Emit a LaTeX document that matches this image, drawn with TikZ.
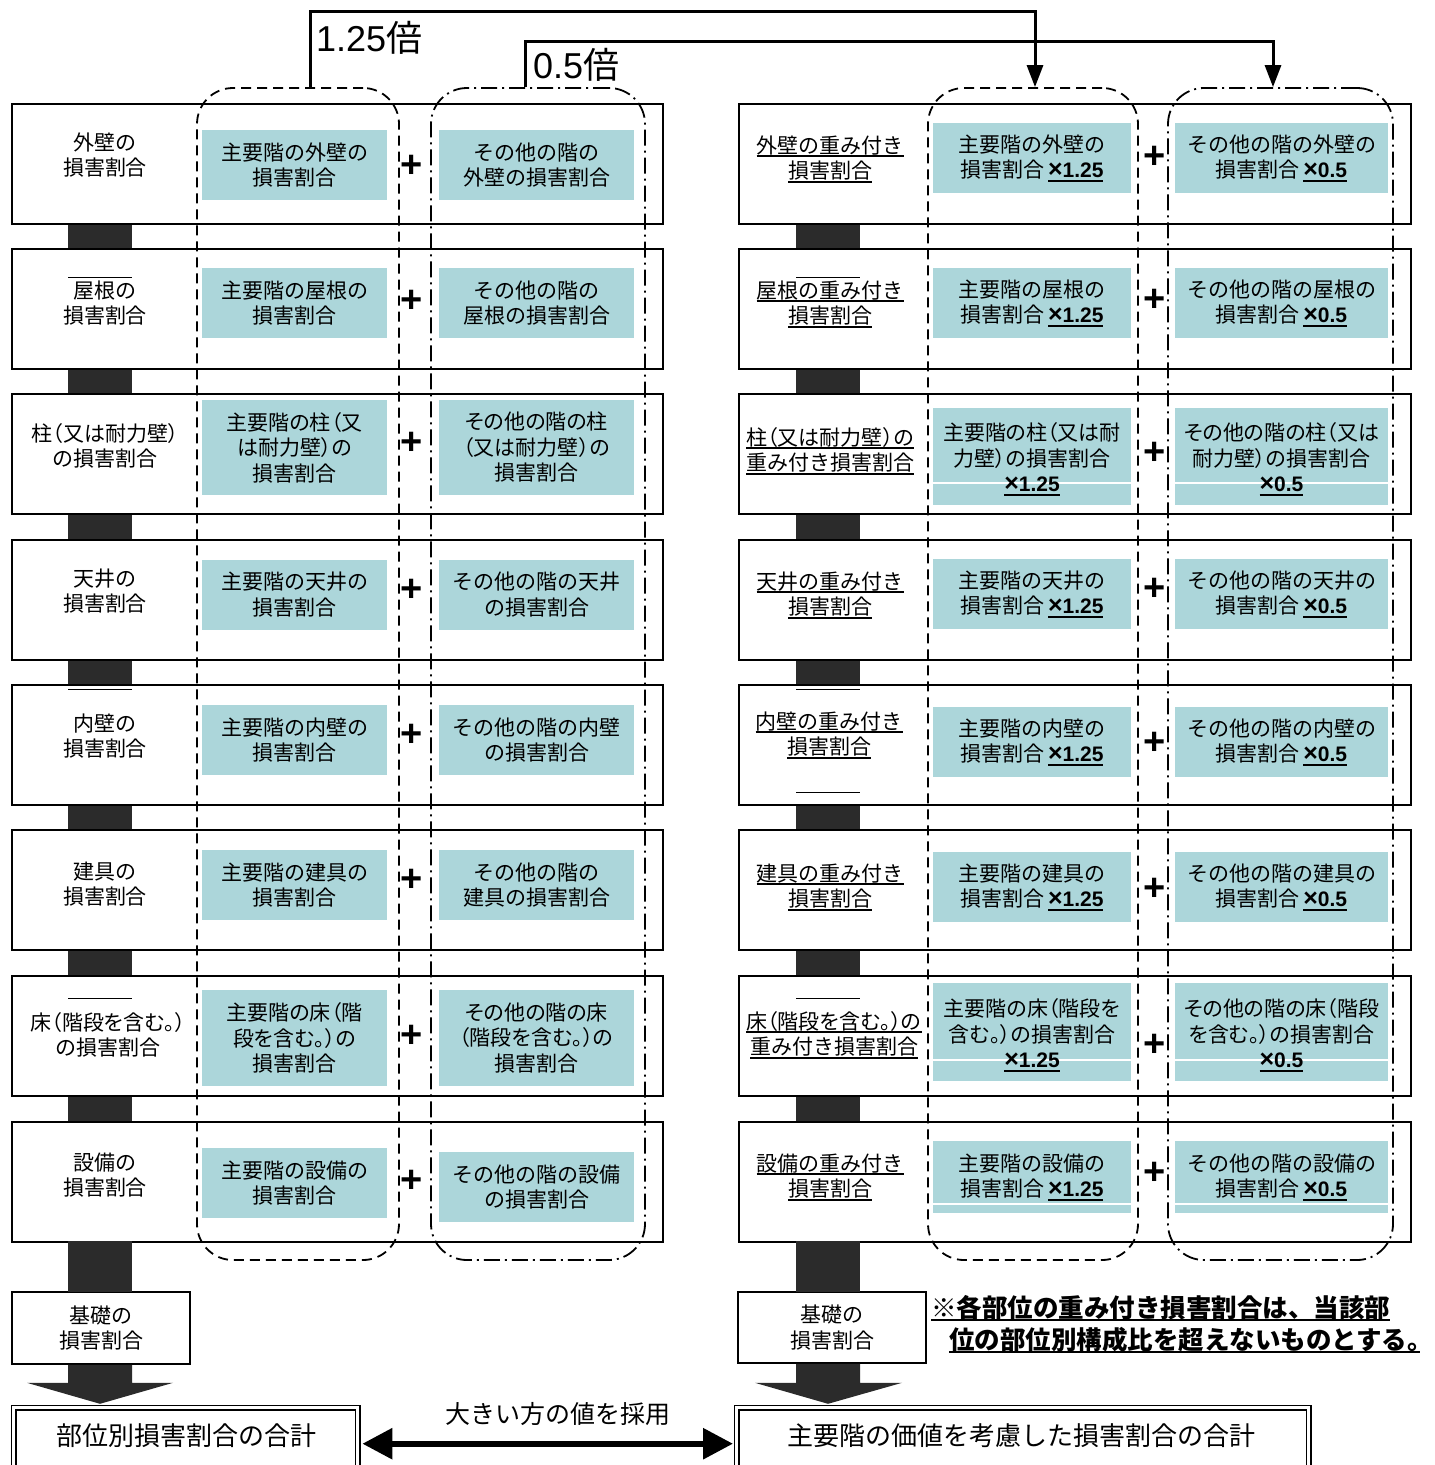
\documentclass[tikz,border=0pt]{standalone}
\usepackage{fontspec}
\setmainfont{Noto Sans CJK JP}
\newfontfamily\pj{Noto Sans CJK JP}[RawFeature=+palt]
\newfontfamily\ar{Liberation Sans}
\usetikzlibrary{arrows.meta,calc}
\definecolor{teal1}{RGB}{172,214,218}
\definecolor{barc}{RGB}{43,43,43}
\newcommand\ulx[1]{\setbox0\hbox{#1}\rlap{\rule[-4pt]{\wd0}{1.8pt}}\box0}
\newcommand\tms{{\fontsize{25}{25}\selectfont ×}}
\newcommand\mul[1]{\,\ulx{\ar\bfseries\tms#1}}
\tikzset{
 rowL/.style={draw, line width=1.6pt, fill=white, anchor=north west, minimum width=651pt, minimum height=120pt, inner sep=0pt},
 rowR/.style={rowL, minimum width=672pt},
 tealbox/.style={fill=teal1, inner sep=0pt, align=center, font=\fontsize{21}{25.5}\selectfont},
 tLm/.style={tealbox, minimum width=185pt},
 tLo/.style={tealbox, minimum width=195pt},
 tRm/.style={tealbox, minimum width=198pt},
 tRo/.style={tealbox, minimum width=213pt},
 lbl/.style={align=center, inner sep=0pt, font=\fontsize{21}{25.5}\selectfont},
 plus/.style={inner sep=0pt, font=\ar\bfseries\fontsize{38}{38}\selectfont},
 grpdash/.style={draw, line width=1.8pt, rounded corners=36pt, dash pattern=on 10pt off 6pt, inner sep=0pt},
 grpdot/.style={draw, line width=1.8pt, rounded corners=36pt, dash pattern=on 16pt off 5pt on 2pt off 5pt, inner sep=0pt},
 conn/.style={line width=3pt},
 whiteln/.style={draw=white, line width=1.5pt},
 stray/.style={line width=1pt},
 basebox/.style={draw, line width=1.6pt, fill=white, align=center, inner sep=0pt, font=\fontsize{21}{25.5}\selectfont},
 total/.style={draw, double, double distance=3pt, line width=1.4pt, anchor=north west, minimum height=64pt, inner sep=0pt},
 bigtxt/.style={inner sep=0pt, font=\fontsize{26}{30}\selectfont},
 note/.style={inner sep=0pt, anchor=west, font=\bfseries\fontsize{25.5}{30}\selectfont},
}
\begin{document}
\begin{tikzpicture}[x=1pt,y=-1pt]
\useasboundingbox (0,0) rectangle (1435,1465);
\clip (0,0) rectangle (1435,1465);
% ---------- row frames
\foreach \i/\t in {1/103,2/248,3/393,4/539,5/684,6/829,7/975,8/1121}{
  \node[rowL] (Lr\i) at (11,\t) {};
  \node[rowR] (Rr\i) at (738,\t) {};
}
% ---------- dark bars between rows
\foreach \i/\j in {1/2,2/3,3/4,4/5,5/6,6/7,7/8}{
  \fill[barc] ([xshift=57pt]Lr\i.south west) rectangle ([xshift=121pt]Lr\j.north west);
  \fill[barc] ([xshift=58pt]Rr\i.south west) rectangle ([xshift=122pt]Rr\j.north west);
}
% stray short rules
\draw[stray] (68,277) -- (132,277) (68,689) -- (132,689) (68,998) -- (132,998);
\draw[stray] (796,277) -- (860,277) (796,689) -- (860,689) (796,792) -- (860,792) (796,998) -- (860,998);
% ---------- left panel
\node[lbl] (Ll1) at (105,155) {外壁の\\損害割合};
\node[lbl] (Ll2) at (105,303) {屋根の\\損害割合};
\node[lbl] (Ll3) at (105,446) {\pj 柱（又は耐力壁）\\\pj の損害割合};
\node[lbl] (Ll4) at (105,591) {天井の\\損害割合};
\node[lbl] (Ll5) at (105,736) {内壁の\\損害割合};
\node[lbl] (Ll6) at (105,884) {建具の\\損害割合};
\node[lbl] (Ll7) at (108,1035) {\pj 床（階段を含む。）\\\pj の損害割合};
\node[lbl] (Ll8) at (105,1175) {設備の\\損害割合};

\node[tLm, minimum height=70pt] (Lm1) at (294.5,165) {主要階の外壁の\\損害割合};
\node[tLm, minimum height=70pt] (Lm2) at (294.5,303) {主要階の屋根の\\損害割合};
\node[tLm, minimum height=95pt] (Lm3) at (294.5,447.5) {\pj 主要階の柱（又\\\pj は耐力壁）の\\損害割合};
\node[tLm, minimum height=70pt] (Lm4) at (294.5,594.5) {主要階の天井の\\損害割合};
\node[tLm, minimum height=70pt] (Lm5) at (294.5,740) {主要階の内壁の\\損害割合};
\node[tLm, minimum height=70pt] (Lm6) at (294.5,885) {主要階の建具の\\損害割合};
\node[tLm, minimum height=96pt] (Lm7) at (294.5,1038) {\pj 主要階の床（階\\\pj 段を含む。）の\\損害割合};
\node[tLm, minimum height=70pt] (Lm8) at (294.5,1183) {主要階の設備の\\損害割合};

\node[tLo, minimum height=70pt] (Lo1) at (536.5,165) {その他の階の\\外壁の損害割合};
\node[tLo, minimum height=70pt] (Lo2) at (536.5,303) {その他の階の\\屋根の損害割合};
\node[tLo, minimum height=95pt] (Lo3) at (536.5,447.5) {\pj その他の階の柱\\\pj （又は耐力壁）の\\損害割合};
\node[tLo, minimum height=70pt] (Lo4) at (536.5,594.5) {その他の階の天井\\の損害割合};
\node[tLo, minimum height=70pt] (Lo5) at (536.5,740) {その他の階の内壁\\の損害割合};
\node[tLo, minimum height=70pt] (Lo6) at (536.5,885) {その他の階の\\建具の損害割合};
\node[tLo, minimum height=96pt] (Lo7) at (536.5,1038) {\pj その他の階の床\\\pj （階段を含む。）の\\損害割合};
\node[tLo, minimum height=70pt] (Lo8) at (536.5,1187) {その他の階の設備\\の損害割合};

\foreach \i/\y in {1/166,2/301,3/443,4/590,5/735,6/880,7/1036,8/1181}{
  \node[plus] (Lp\i) at (412,\y) {+};
}
% ---------- right panel
\node[lbl] (Rl1) at (830,159) {\ulx{外壁の重み付き}\\\ulx{損害割合}};
\node[lbl] (Rl2) at (830,304) {\ulx{屋根の重み付き}\\\ulx{損害割合}};
\node[lbl] (Rl3) at (830,451) {\ulx{\pj 柱（又は耐力壁）の}\\\ulx{重み付き損害割合}};
\node[lbl] (Rl4) at (830,595) {\ulx{天井の重み付き}\\\ulx{損害割合}};
\node[lbl] (Rl5) at (829,735) {\ulx{内壁の重み付き}\\\ulx{損害割合}};
\node[lbl] (Rl6) at (830,887) {\ulx{建具の重み付き}\\\ulx{損害割合}};
\node[lbl] (Rl7) at (834,1035) {\ulx{\pj 床（階段を含む。）の}\\\ulx{重み付き損害割合}};
\node[lbl] (Rl8) at (830,1177) {\ulx{設備の重み付き}\\\ulx{損害割合}};

\node[tRm, minimum height=70pt] (Rm1) at (1032,158) {主要階の外壁の\\損害割合\mul{1.25}};
\node[tRm, minimum height=70pt] (Rm2) at (1032,303) {主要階の屋根の\\損害割合\mul{1.25}};
\node[tRm, minimum height=97pt] (Rm3) at (1032,456.5) {};
\node[tRm, minimum height=70pt] (Rm4) at (1032,594) {主要階の天井の\\損害割合\mul{1.25}};
\node[tRm, minimum height=70pt] (Rm5) at (1032,742) {主要階の内壁の\\損害割合\mul{1.25}};
\node[tRm, minimum height=70pt] (Rm6) at (1032,887) {主要階の建具の\\損害割合\mul{1.25}};
\node[tRm, minimum height=98pt] (Rm7) at (1032,1032) {};
\node[tRm, minimum height=72pt] (Rm8) at (1032,1177) {主要階の設備の\\損害割合\mul{1.25}};

\node[tRo, minimum height=70pt] (Ro1) at (1281.5,158) {その他の階の外壁の\\損害割合\mul{0.5}};
\node[tRo, minimum height=70pt] (Ro2) at (1281.5,303) {その他の階の屋根の\\損害割合\mul{0.5}};
\node[tRo, minimum height=97pt] (Ro3) at (1281.5,456.5) {};
\node[tRo, minimum height=70pt] (Ro4) at (1281.5,594) {その他の階の天井の\\損害割合\mul{0.5}};
\node[tRo, minimum height=70pt] (Ro5) at (1281.5,742) {その他の階の内壁の\\損害割合\mul{0.5}};
\node[tRo, minimum height=70pt] (Ro6) at (1281.5,887) {その他の階の建具の\\損害割合\mul{0.5}};
\node[tRo, minimum height=98pt] (Ro7) at (1281.5,1032) {};
\node[tRo, minimum height=72pt] (Ro8) at (1281.5,1177) {その他の階の設備の\\損害割合\mul{0.5}};

\draw[whiteln] (Rm3.west |- 0,483) -- (Rm3.east |- 0,483) (Ro3.west |- 0,483) -- (Ro3.east |- 0,483);
\draw[whiteln] (Rm7.west |- 0,1060) -- (Rm7.east |- 0,1060) (Ro7.west |- 0,1060) -- (Ro7.east |- 0,1060);
\draw[whiteln] (Rm8.west |- 0,1204) -- (Rm8.east |- 0,1204) (Ro8.west |- 0,1204) -- (Ro8.east |- 0,1204);

\node[lbl] (Rm3t) at (1032,459.5) {\pj 主要階の柱（又は耐\\\pj 力壁）の損害割合\\\ulx{\ar\bfseries\tms 1.25}};
\node[lbl] (Ro3t) at (1281.5,459.5) {\pj その他の階の柱（又は\\\pj 耐力壁）の損害割合\\\ulx{\ar\bfseries\tms 0.5}};
\node[lbl] (Rm7t) at (1032,1035) {\pj 主要階の床（階段を\\\pj 含む。）の損害割合\\\ulx{\ar\bfseries\tms 1.25}};
\node[lbl] (Ro7t) at (1281.5,1035) {\pj その他の階の床（階段\\\pj を含む。）の損害割合\\\ulx{\ar\bfseries\tms 0.5}};

\foreach \i/\y in {1/157,2/300,3/453,4/589,5/743,6/889,7/1045,8/1173}{
  \node[plus] (Rp\i) at (1155,\y) {+};
}
% ---------- dashed groups
\node[grpdash, minimum width=202pt, minimum height=1172pt] (gL1) at (298,674) {};
\node[grpdot, minimum width=214pt, minimum height=1172pt] (gL2) at (538,674) {};
\node[grpdash, minimum width=210pt, minimum height=1172pt] (gR1) at (1033,674) {};
\node[grpdot, minimum width=225pt, minimum height=1172pt] (gR2) at (1280.5,674) {};
% ---------- top connectors
\draw[conn, -{Triangle[length=22pt,width=16pt]}] ([xshift=12pt]gL1.north) -- ++(0,-76) -| ([xshift=2pt]gR1.north);
\draw[conn, -{Triangle[length=22pt,width=16pt]}] ([xshift=-13pt]gL2.north) -- ++(0,-46) -| ([xshift=-7.5pt]gR2.north);
\node[inner sep=0pt, anchor=west, font=\fontsize{36}{40}\selectfont] (t125) at (316,38) {{\ar 1.25}倍};
\node[inner sep=0pt, anchor=west, font=\fontsize{36}{40}\selectfont] (t05) at (533,65) {{\ar 0.5}倍};
% ---------- bottom
\node[basebox, minimum width=178pt, minimum height=72pt] (Lb) at (101,1328) {基礎の\\損害割合};
\node[basebox, minimum width=188pt, minimum height=71pt] (Rb) at (832,1327.5) {基礎の\\損害割合};
\fill[barc] (68,1241) rectangle (132,1292);
\fill[barc] (796,1241) rectangle (860,1292);
\fill[barc] ([xshift=-33pt]Lb.south) -- ++(64,0) -- ++(0,18) -- ++(41,0) -- ++(-73,21) -- ++(-73,-21) -- ++(41,0) -- cycle;
\fill[barc] ([xshift=-36pt]Rb.south) -- ++(64,0) -- ++(0,19) -- ++(42,0) -- ++(-74,21) -- ++(-73,-21) -- ++(41,0) -- cycle;

\node[total, minimum width=344pt] (Lt) at (13,1407) {};
\node[total, minimum width=572pt] (Rt) at (736,1407) {};
\node[bigtxt] (LtT) at (186.5,1436) {部位別損害割合の合計};
\node[bigtxt] (RtT) at (1021.5,1436) {主要階の価値を考慮した損害割合の合計};
\draw[line width=6pt, {Triangle[length=30pt,width=30pt]}-{Triangle[length=30pt,width=30pt]}] ([xshift=4pt,yshift=-4pt]Lt.east) -- ([xshift=-3pt,yshift=-4pt]Rt.west);
\node[inner sep=0pt, font=\fontsize{25}{30}\selectfont] (aL) at (558,1414) {大きい方の値を採用};

\node[note] (n1) at (931,1308) {\ulx{※各部位の重み付き損害割合は、当該部}};
\node[note] (n2) at (949,1340) {\ulx{位の部位別構成比を超えないものとする\makebox[0.5em][l]{。}}};
\end{tikzpicture}
\end{document}
